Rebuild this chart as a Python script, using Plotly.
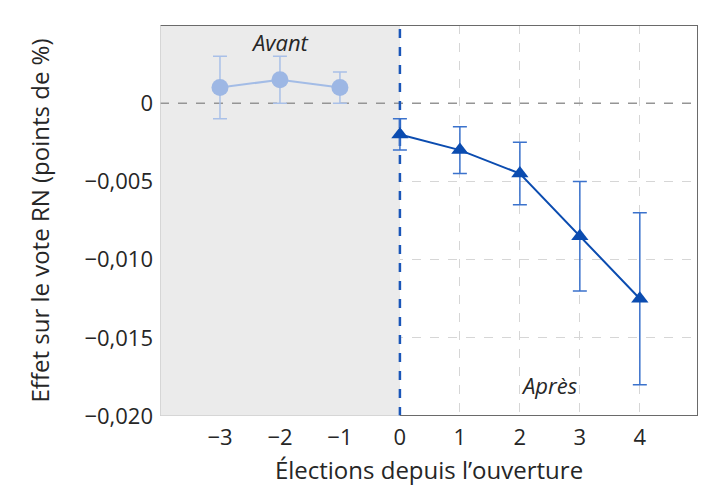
import plotly.graph_objects as go

# Data
pre_x = [-3, -2, -1]
pre_y = [0.001, 0.0015, 0.001]
pre_err = [0.002, 0.0015, 0.001]

post_x = [0, 1, 2, 3, 4]
post_y = [-0.002, -0.003, -0.0045, -0.0085, -0.0125]
post_err = [0.001, 0.0015, 0.002, 0.0035, 0.0055]

x_ticks = [-3, -2, -1, 0, 1, 2, 3, 4]
x_ticklabels = ["−3", "−2", "−1", "0", "1", "2", "3", "4"]
y_ticks = [0, -0.005, -0.010, -0.015, -0.020]
y_ticklabels = ["0", "−0,005", "−0,010", "−0,015", "−0,020"]

XMIN, XMAX = -4, 4.97
YMIN, YMAX = -0.020, 0.005

FONT = "Open Sans"
DARK = "#6a6a6a"
LIGHT = "#cfcfcf"

fig = go.Figure()

fig.add_trace(go.Scatter(
    x=pre_x, y=pre_y, mode="lines+markers",
    line=dict(color="#a3bce6", width=2),
    marker=dict(symbol="circle", size=17, color="#9db7e4"),
    error_y=dict(type="data", array=pre_err, color="#a9c0e8", thickness=1.5, width=7),
    showlegend=False,
))
fig.add_trace(go.Scatter(
    x=post_x, y=post_y, mode="lines+markers",
    line=dict(color="#0b4cb0", width=2),
    marker=dict(symbol="triangle-up", size=15, color="#0b4cb0"),
    error_y=dict(type="data", array=post_err, color="#3b72cc", thickness=1.5, width=7),
    showlegend=False,
))

shapes = [
    dict(type="rect", xref="x", yref="y", x0=XMIN, x1=0, y0=YMIN, y1=YMAX,
         fillcolor="#ebebeb", line=dict(width=0), layer="between"),
    dict(type="line", xref="x", yref="y", x0=XMIN, x1=XMAX, y0=0, y1=0,
         line=dict(color="#959595", width=1.5, dash="dash"), layer="between"),
    dict(type="line", xref="x", yref="y", x0=0, x1=0, y0=YMIN, y1=YMAX,
         line=dict(color="#1a56b8", width=2.5, dash="dash"), layer="between"),
    dict(type="line", xref="x", yref="y", x0=XMIN, x1=XMAX, y0=YMAX, y1=YMAX,
         line=dict(color=DARK, width=2), layer="above"),
    dict(type="line", xref="x", yref="y", x0=XMAX, x1=XMAX, y0=YMIN, y1=YMAX,
         line=dict(color=DARK, width=2), layer="above"),
    dict(type="line", xref="x", yref="y", x0=0, x1=XMAX, y0=YMIN, y1=YMIN,
         line=dict(color=DARK, width=2), layer="above"),
    dict(type="line", xref="x", yref="y", x0=XMIN, x1=0, y0=YMIN, y1=YMIN,
         line=dict(color=LIGHT, width=1.5), layer="above"),
    dict(type="line", xref="x", yref="y", x0=XMIN, x1=XMIN, y0=YMIN, y1=YMAX,
         line=dict(color=LIGHT, width=1.5), layer="above"),
]

fig.update_layout(
    width=712, height=487,
    margin=dict(l=152, r=22, t=17, b=79),
    paper_bgcolor="white", plot_bgcolor="white",
    font=dict(family=FONT, color="#262626", size=21),
    shapes=shapes,
    annotations=[
        dict(x=-2, y=0.0039, xref="x", yref="y", text="<i>Avant</i>", showarrow=False,
             font=dict(size=22, color="#262626")),
        dict(x=2.5, y=-0.018, xref="x", yref="y", text="<i>Après</i>", showarrow=False,
             font=dict(size=22, color="#262626")),
    ],
    xaxis=dict(
        range=[XMIN, XMAX], tickvals=x_ticks, ticktext=x_ticklabels,
        showgrid=True, gridcolor="#d6d6d6", griddash="dash", gridwidth=1,
        zeroline=False, showline=False, ticks="", ticklabelstandoff=6,
        tickfont=dict(size=22),
        title=dict(text="Élections depuis l’ouverture", font=dict(size=24), standoff=12),
    ),
    yaxis=dict(
        range=[YMIN, YMAX], tickvals=y_ticks, ticktext=y_ticklabels,
        showgrid=True, gridcolor="#d6d6d6", griddash="dash", gridwidth=1,
        zeroline=False, showline=False, ticks="", ticklabelstandoff=6,
        tickfont=dict(size=22),
        title=dict(text="Effet sur le vote RN (points de %)", font=dict(size=24), standoff=28),
    ),
)

fig.write_html("out.html")
